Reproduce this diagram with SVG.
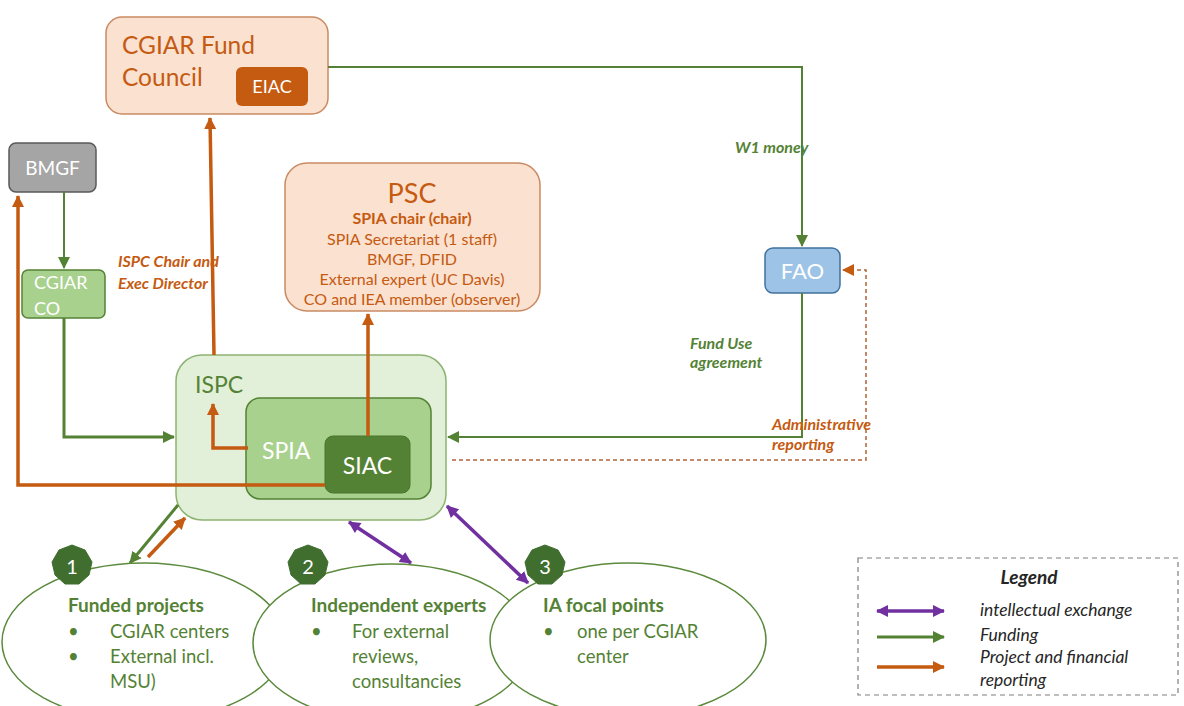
<svg xmlns="http://www.w3.org/2000/svg" width="1184" height="706" viewBox="0 0 1184 706">
<style>
text{font-family:Lato,"Open Sans","Liberation Sans",sans-serif}
.peach{fill:#fbe1d0;stroke:#c98a63;stroke-width:1.5}
.otxt{fill:#c55a11}
.gtxt{fill:#548235}
.wtxt{fill:#ffffff}
.ell{fill:#ffffff;stroke:#5b8a3c;stroke-width:1.5}
.badge{fill:#3f6e2f;stroke:#3f6e2f}
.og{fill:none;stroke:#c55a11;stroke-width:3.5}
.gr{fill:none;stroke:#548235;stroke-width:3}
.gr2{fill:none;stroke:#548235;stroke-width:2}
.pu{fill:none;stroke:#7030a0;stroke-width:3.5}
.lbl{font-style:italic;font-weight:bold;font-size:16px}
.leg{font-style:italic;font-size:17.5px;fill:#262626}
.bt{font-size:18.5px}
.bh{font-size:19px;font-weight:bold}
</style>
<defs>
<marker id="ao" markerUnits="userSpaceOnUse" markerWidth="14" markerHeight="14" refX="11" refY="7" orient="auto"><path d="M0,1 L12,7 L0,13 Z" fill="#c55a11"/></marker>
<marker id="ag" markerUnits="userSpaceOnUse" markerWidth="14" markerHeight="14" refX="11" refY="7" orient="auto"><path d="M0,1 L12,7 L0,13 Z" fill="#548235"/></marker>
<marker id="ap" markerUnits="userSpaceOnUse" markerWidth="14" markerHeight="14" refX="11" refY="7" orient="auto"><path d="M0,1 L12,7 L0,13 Z" fill="#7030a0"/></marker>
<marker id="aps" markerUnits="userSpaceOnUse" markerWidth="14" markerHeight="14" refX="1" refY="7" orient="auto"><path d="M12,1 L0,7 L12,13 Z" fill="#7030a0"/></marker>
</defs>
<rect width="1184" height="706" fill="#ffffff"/>

<g id="fund-council">
<rect class="peach" x="106" y="17" width="222" height="97" rx="16"/>
<text class="otxt" x="122" y="54" font-size="24.5">CGIAR Fund</text>
<text class="otxt" x="122" y="86" font-size="24.5">Council</text>
<rect x="236" y="67" width="72" height="39" rx="6" fill="#c55a11"/>
<text class="wtxt" x="272" y="93" font-size="18" text-anchor="middle">EIAC</text>
</g>

<g id="bmgf">
<rect x="9" y="143" width="87" height="49" rx="7" fill="#a5a5a5" stroke="#595959" stroke-width="1.5"/>
<text class="wtxt" x="52.5" y="175" font-size="19" text-anchor="middle">BMGF</text>
</g>

<g id="cgiar-co">
<rect x="22" y="270" width="83" height="48" rx="6" fill="#a9d18e" stroke="#548235" stroke-width="1.5"/>
<text class="wtxt" x="34" y="289" font-size="18">CGIAR</text>
<text class="wtxt" x="34" y="315" font-size="18">CO</text>
</g>

<g id="psc">
<rect class="peach" x="285" y="163" width="255" height="148" rx="22"/>
<text class="otxt" x="412" y="203" font-size="27" text-anchor="middle">PSC</text>
<text class="otxt" x="412" y="224" font-size="16" font-weight="bold" text-anchor="middle">SPIA chair (chair)</text>
<text class="otxt" x="412" y="245" font-size="16" text-anchor="middle">SPIA Secretariat (1 staff)</text>
<text class="otxt" x="412" y="265" font-size="16" text-anchor="middle">BMGF, DFID</text>
<text class="otxt" x="412" y="285" font-size="16" text-anchor="middle">External expert (UC Davis)</text>
<text class="otxt" x="412" y="305" font-size="16" text-anchor="middle">CO and IEA member (observer)</text>
</g>

<g id="fao">
<rect x="765" y="248" width="75" height="45" rx="8" fill="#9dc3e6" stroke="#41719c" stroke-width="1.5"/>
<text class="wtxt" x="802.5" y="279" font-size="22" text-anchor="middle">FAO</text>
</g>

<g id="ispc">
<rect x="176" y="355" width="270" height="165" rx="26" fill="#e2efd9" stroke="#8db371" stroke-width="1.5"/>
<text class="gtxt" x="195" y="393" font-size="23">ISPC</text>
</g>
<g id="spia">
<rect x="246" y="398" width="185" height="101" rx="14" fill="#a9d18e" stroke="#548235" stroke-width="1.5"/>
<text class="wtxt" x="262" y="459" font-size="23">SPIA</text>
</g>
<g id="siac">
<rect x="325" y="436" width="85" height="57" rx="8" fill="#548235" stroke="#4a7530" stroke-width="1"/>
<text class="wtxt" x="367.5" y="474" font-size="23" text-anchor="middle">SIAC</text>
</g>

<g id="connectors">
<polyline class="gr2" points="328,67 802,67 802,246" marker-end="url(#ag)"/>
<line class="gr2" x1="64" y1="192" x2="64" y2="268" marker-end="url(#ag)"/>
<polyline class="gr" points="64,318 64,437 174,437" marker-end="url(#ag)"/>
<polyline class="gr2" points="802,293 802,437 448,437" marker-end="url(#ag)"/>
<polyline points="452,460 866,460 866,270 843,270" fill="none" stroke="#b0643a" stroke-width="1.5" stroke-dasharray="4,3" marker-end="url(#ao)"/>
<polyline class="og" points="325,485 18,485 18,196" marker-end="url(#ao)"/>
<line class="og" x1="214" y1="355" x2="210" y2="118" marker-end="url(#ao)"/>
<polyline class="og" points="248,448 213,448 213,404" marker-end="url(#ao)"/>
<line class="og" x1="368" y1="436" x2="368" y2="314" marker-end="url(#ao)"/>
<line class="gr" x1="178" y1="505" x2="130" y2="563" marker-end="url(#ag)"/>
<line class="og" x1="148" y1="557" x2="185" y2="518" marker-end="url(#ao)"/>
<line class="pu" x1="349" y1="522" x2="411" y2="563" marker-start="url(#aps)" marker-end="url(#ap)"/>
<line class="pu" x1="447" y1="506" x2="528" y2="583" marker-start="url(#aps)" marker-end="url(#ap)"/>
<text class="lbl gtxt" x="735" y="153">W1 money</text>
<text class="lbl otxt" x="118" y="267">ISPC Chair and</text>
<text class="lbl otxt" x="118" y="289">Exec Director</text>
<text class="lbl gtxt" x="690" y="349">Fund Use</text>
<text class="lbl gtxt" x="690" y="368">agreement</text>
<text class="lbl otxt" x="772" y="430">Administrative</text>
<text class="lbl otxt" x="772" y="450">reporting</text>
</g>

<g id="funded-projects">
<ellipse class="ell" cx="144" cy="642" rx="142" ry="79"/>
<polygon class="badge" points="72,545 85,550 92,562 89,575 79,584 65,584 55,575 52,562 59,550"/>
<text class="wtxt" x="72" y="574" font-size="20" text-anchor="middle">1</text>
<text class="gtxt bh" x="68" y="612">Funded projects</text>
<text class="gtxt bt" x="68" y="638">•</text>
<text class="gtxt bt" x="110" y="638">CGIAR centers</text>
<text class="gtxt bt" x="68" y="663">•</text>
<text class="gtxt bt" x="110" y="663">External incl.</text>
<text class="gtxt bt" x="110" y="688">MSU)</text>
</g>

<g id="independent-experts">
<ellipse class="ell" cx="392" cy="643" rx="139" ry="79"/>
<polygon class="badge" points="308,545 321,550 328,562 325,575 315,584 301,584 291,575 288,562 295,550"/>
<text class="wtxt" x="308" y="574" font-size="20" text-anchor="middle">2</text>
<text class="gtxt bh" x="311" y="612">Independent experts</text>
<text class="gtxt bt" x="311" y="638">•</text>
<text class="gtxt bt" x="352" y="638">For external</text>
<text class="gtxt bt" x="352" y="663">reviews,</text>
<text class="gtxt bt" x="352" y="688">consultancies</text>
</g>

<g id="ia-focal-points">
<ellipse class="ell" cx="628" cy="640" rx="138" ry="77"/>
<polygon class="badge" points="545,545 558,550 565,562 562,575 552,584 538,584 528,575 525,562 532,550"/>
<text class="wtxt" x="545" y="574" font-size="20" text-anchor="middle">3</text>
<text class="gtxt bh" x="543" y="612">IA focal points</text>
<text class="gtxt bt" x="543" y="638">•</text>
<text class="gtxt bt" x="577" y="638">one per CGIAR</text>
<text class="gtxt bt" x="577" y="663">center</text>
</g>

<g id="legend">
<rect x="858" y="558" width="320" height="137" fill="#ffffff" stroke="#7f7f7f" stroke-width="1.2" stroke-dasharray="5,4"/>
<text x="1029" y="584" font-size="19" font-weight="bold" font-style="italic" fill="#262626" text-anchor="middle">Legend</text>
<line class="pu" x1="877" y1="611" x2="944" y2="611" marker-start="url(#aps)" marker-end="url(#ap)"/>
<line class="gr" x1="877" y1="637" x2="944" y2="637" marker-end="url(#ag)"/>
<line class="og" x1="877" y1="667" x2="944" y2="667" marker-end="url(#ao)"/>
<text class="leg" x="980" y="616">intellectual exchange</text>
<text class="leg" x="980" y="641">Funding</text>
<text class="leg" x="980" y="663">Project and financial</text>
<text class="leg" x="980" y="686">reporting</text>
</g>
</svg>
